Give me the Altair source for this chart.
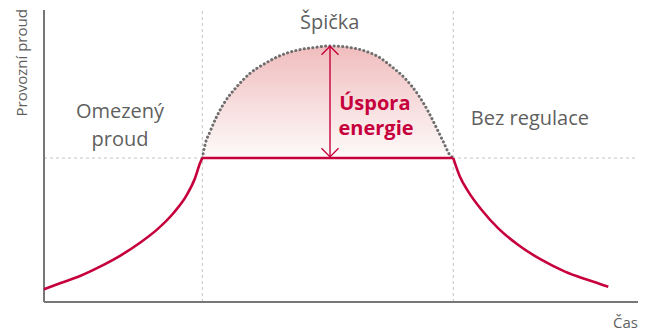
import altair as alt
import pandas as pd

# ---- data (time 0-100, current 0-100) ----
left_x = [0, 2.69, 6.06, 9.43, 12.79, 16.16, 18.97, 21.77, 24.02, 25.42, 26.26, 26.65]
left_y = [4.35, 6.4, 8.9, 12.1, 15.8, 20.3, 24.7, 30.4, 36.6, 42.4, 47.5, 49.3]
flat_x = [26.65, 68.9]
flat_y = [49.3, 49.3]
right_x = [68.9, 70.03, 71.43, 73.69, 76.48, 79.85, 83.79, 87.71, 91.63, 95.0]
right_y = [49.3, 42.9, 37.8, 31.5, 25.2, 19.5, 14.4, 10.4, 7.5, 5.2]
dome_x = [26.65, 27.10, 27.95, 29.07, 30.47, 32.44, 34.68, 37.21, 40.02, 42.81, 45.62, 48.15,
          50.67, 53.48, 56.28, 58.54, 60.77, 63.01, 64.70, 66.11, 67.22, 68.35, 68.9]
dome_y = [49.3, 53.8, 58.3, 63.5, 68.6, 73.7, 78.3, 81.7, 84.6, 86.3, 87.2, 87.7,
          87.4, 86.3, 84.0, 80.6, 76.6, 70.9, 65.2, 59.5, 54.9, 50.3, 49.3]
limit_level = 49.3
zone_bounds = [26.65, 68.9]
arrow_x = 48.15
arrow_top = 87.6
arrow_bottom = 49.7

gray_labels = ["Špička", "Omezený", "proud", "Bez regulace"]
gray_lx = [48.1, 12.8, 12.8, 81.8]
gray_ly = [93.5, 63.0, 53.4, 60.6]
red_labels = ["Úspora", "energie"]
red_lx = [55.7, 55.9]
red_ly = [65.8, 57.2]
y_title = "Provozní proud"
x_title = "Čas"

RED = "#c6003c"
GRAY_TXT = "#5f5f5f"
FONT = "Open Sans"

xs = alt.Scale(domain=[0, 100])
ys = alt.Scale(domain=[0, 100])
X = lambda f="x": alt.X(f, type="quantitative", scale=xs, axis=None)
Y = lambda f="y": alt.Y(f, type="quantitative", scale=ys, axis=None)

red_df = pd.DataFrame(
    {"x": left_x + flat_x + right_x,
     "y": left_y + flat_y + right_y,
     "seg": ["a"] * len(left_x) + ["b"] * len(flat_x) + ["c"] * len(right_x)}
)
dome_df = pd.DataFrame({"x": dome_x, "y": dome_y, "y2": [limit_level] * len(dome_x)})

vgrid_df = pd.DataFrame({"x": zone_bounds, "y": [0, 0], "y2": [100, 100]})
hgrid_df = pd.DataFrame({"x": [0], "x2": [100], "y": [limit_level]})

grid_v = alt.Chart(vgrid_df).mark_rule(color="#c4c4c4", strokeDash=[3, 3], strokeWidth=1).encode(
    x=X(), y=Y(), y2="y2")
grid_h = alt.Chart(hgrid_df).mark_rule(color="#c4c4c4", strokeDash=[3, 3], strokeWidth=1).encode(
    x=X(), x2="x2", y=Y())

axis_y = alt.Chart(pd.DataFrame({"x": [0], "y": [0], "y2": [100]})).mark_rule(
    color="#777777", strokeWidth=2).encode(x=X(), y=Y(), y2="y2")
axis_x = alt.Chart(pd.DataFrame({"x": [0], "x2": [100], "y": [0]})).mark_rule(
    color="#777777", strokeWidth=2).encode(x=X(), x2="x2", y=Y())

area = alt.Chart(dome_df).mark_area(
    interpolate="monotone",
    color=alt.Gradient(
        gradient="linear",
        stops=[alt.GradientStop(color="#f0bcbd", offset=0),
               alt.GradientStop(color="#f7dcdc", offset=0.5),
               alt.GradientStop(color="#fefafa", offset=1)],
        x1=0, x2=0, y1=0, y2=1),
).encode(x=X(), y=Y(), y2="y2")

dome = alt.Chart(dome_df).mark_line(
    interpolate="monotone", color="#6e6e6e", strokeWidth=3,
    strokeDash=[0.1, 4.2], strokeCap="round"
).encode(x=X(), y=Y())

red_line = alt.Chart(red_df).mark_line(
    interpolate="monotone", color=RED, strokeWidth=2.6
).encode(x=X(), y=Y(), detail="seg:N")

arrow_shaft = alt.Chart(pd.DataFrame({"x": [arrow_x], "y": [arrow_bottom], "y2": [arrow_top]})).mark_rule(
    color=RED, strokeWidth=1.4).encode(x=X(), y=Y(), y2="y2")
head_up = alt.Chart(pd.DataFrame({"x": [arrow_x], "y": [arrow_top]})).mark_point(
    shape="M-1,1L0,0L1,1", filled=False, size=290, color=RED, strokeWidth=1.4, opacity=1
).encode(x=X(), y=Y())
head_down = alt.Chart(pd.DataFrame({"x": [arrow_x], "y": [arrow_bottom]})).mark_point(
    shape="M-1,-1L0,0L1,-1", filled=False, size=290, color=RED, strokeWidth=1.4, opacity=1
).encode(x=X(), y=Y())

gray_txt = alt.Chart(pd.DataFrame({"x": gray_lx, "y": gray_ly, "t": gray_labels})).mark_text(
    font=FONT, fontSize=20, color=GRAY_TXT, align="center", baseline="alphabetic"
).encode(x=X(), y=Y(), text="t:N")
red_txt = alt.Chart(pd.DataFrame({"x": red_lx, "y": red_ly, "t": red_labels})).mark_text(
    font=FONT, fontSize=20, fontWeight="bold", color=RED, align="center", baseline="alphabetic"
).encode(x=X(), y=Y(), text="t:N")

ytitle = alt.Chart(pd.DataFrame({"x": [-3.7], "y": [100.3], "t": [y_title]})).mark_text(
    font=FONT, fontSize=15, color=GRAY_TXT, angle=270, align="right", baseline="middle"
).encode(x=X(), y=Y(), text="t:N")
xtitle = alt.Chart(pd.DataFrame({"x": [100], "y": [-8.9], "t": [x_title]})).mark_text(
    font=FONT, fontSize=15, color=GRAY_TXT, align="right", baseline="alphabetic"
).encode(x=X(), y=Y(), text="t:N")

chart = alt.layer(
    grid_v, grid_h, area, dome, axis_y, axis_x, red_line,
    arrow_shaft, head_up, head_down, gray_txt, red_txt, ytitle, xtitle
).properties(
    width=594, height=292,
    autosize=alt.AutoSizeParams(type="none"),
    padding={"left": 36, "top": 2, "right": 6, "bottom": 30},
).configure_view(stroke=None)

chart.save("out.html", embed_options={"renderer": "svg", "actions": False})
